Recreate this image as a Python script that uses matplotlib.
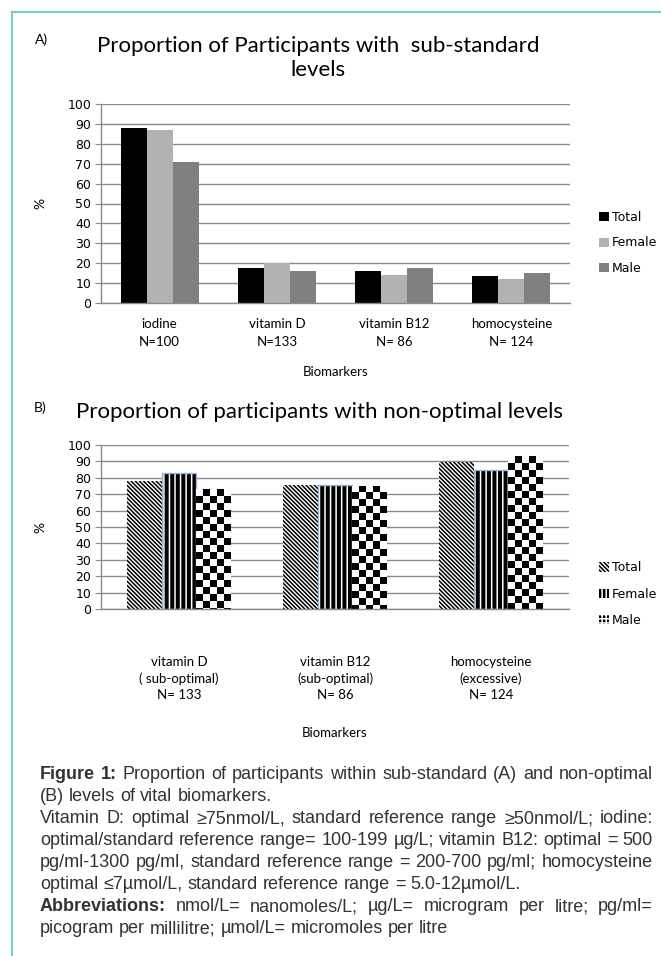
import numpy as np
import matplotlib
matplotlib.use("Agg")
import matplotlib.pyplot as plt
from matplotlib.patches import Patch
from matplotlib.lines import Line2D

# ===== DATA =====
groups = ["Total", "Female", "Male"]

cats_a = ["iodine\nN=100", "vitamin D\nN=133", "vitamin B12\nN= 86", "homocysteine\nN= 124"]
total_a = [88, 17.5, 16, 13.5]
female_a = [87, 20, 14, 12]
male_a = [71, 16, 17.5, 15]

cats_b = ["vitamin D\n( sub-optimal)\nN= 133", "vitamin B12\n(sub-optimal)\nN= 86",
          "homocysteine\n(excessive)\nN= 124"]
total_b = [78, 75.5, 89.5]
female_b = [83, 75.5, 84.5]
male_b = [73, 75, 93]

yticks = list(range(0, 101, 10))

title_a = "Proportion of Participants with  sub-standard\nlevels"
title_b = "Proportion of participants with non-optimal levels"

caption_bold = ["Figure 1:", "", "", "", "", "", "Abbreviations:", ""]
caption_text = [
    "Proportion of participants within sub-standard (A) and non-optimal",
    "(B) levels of vital biomarkers.",
    "Vitamin D: optimal \u226575nmol/L, standard reference range \u226550nmol/L; iodine:",
    "optimal/standard reference range= 100-199 \u00b5g/L; vitamin B12: optimal = 500",
    "pg/ml-1300 pg/ml, standard reference range = 200-700 pg/ml; homocysteine",
    "optimal \u22647\u00b5mol/L, standard reference range = 5.0-12\u00b5mol/L.",
    "nmol/L= nanomoles/L; \u00b5g/L= microgram per litre; pg/ml=",
    "picogram per millilitre; \u00b5mol/L= micromoles per litre",
]
caption_justify = [True, False, True, True, True, False, True, False]
# ================

W, H = 661, 956
TITLE_FONT = "Lato"
TICK_FONT = "DejaVu Sans"
CAP_FONT = "Liberation Sans"
GRID = "#8a8a8a"
plt.rcParams["hatch.linewidth"] = 1.1

fig = plt.figure(figsize=(W / 100, H / 100), dpi=100)


def px_rect(l, t, r, b):
    return [l / W, 1 - b / H, (r - l) / W, (b - t) / H]


def style_axis(ax, cats, label_y, pad, lsp):
    ax.set_xlim(0, len(cats))
    ax.set_ylim(0, 100)
    ax.set_yticks(yticks)
    ax.yaxis.grid(True, color=GRID, lw=1.0)
    ax.set_axisbelow(True)
    for s in ["top", "right"]:
        ax.spines[s].set_visible(False)
    for s in ["left", "bottom"]:
        ax.spines[s].set_color(GRID)
        ax.spines[s].set_linewidth(1.0)
    ax.tick_params(axis="y", length=4, color=GRID, labelsize=9, pad=3)
    for t in ax.get_yticklabels():
        t.set_fontfamily(TICK_FONT)
    ax.set_xticks(np.arange(len(cats)) + 0.5)
    ax.set_xticklabels(cats, fontfamily=TITLE_FONT, fontsize=9.5, linespacing=lsp)
    ax.tick_params(axis="x", length=0, pad=pad)
    ax.set_ylabel("%", fontfamily=TITLE_FONT, fontsize=10)
    ax.yaxis.set_label_coords(-0.117, 0.5)
    ax.set_xlabel("Biomarkers", fontfamily=TITLE_FONT, fontsize=9.5)
    ax.xaxis.set_label_coords(0.5, label_y)
    ax.xaxis.label.set_va("center")


w = 1 / 4.5
offsets = [-w, 0, w]

# ---- Chart A ----
axA = fig.add_axes(px_rect(101, 104, 570, 303))
xa = np.arange(len(cats_a)) + 0.5
colors_a = ["#000000", "#b2b2b2", "#808080"]
for vals, off, c, g in zip([total_a, female_a, male_a], offsets, colors_a, groups):
    axA.bar(xa + off, vals, w, color=c, lw=0, label=g)
style_axis(axA, cats_a, -(372 - 303) / 199, 11, 1.55)
axA.legend(loc="center left", bbox_to_anchor=(588 / W, 1 - 243 / H),
           bbox_transform=fig.transFigure, frameon=False,
           prop={"family": TICK_FONT, "size": 9}, handlelength=0.75,
           handleheight=0.75, handletextpad=0.25, labelspacing=1.0)

fig.text(42 / W, 1 - 40 / H, "A)", fontfamily=TITLE_FONT, fontsize=10, ha="center", va="center")
fig.text(318 / W, 1 - 58 / H, title_a, fontfamily=TITLE_FONT, fontsize=16,
         ha="center", va="center", linespacing=1.3)

# ---- Chart B ----
axB = fig.add_axes(px_rect(101, 445, 569, 609))
xb = np.arange(len(cats_b)) + 0.5
axB.bar(xb + offsets[0], total_b, w, facecolor="white", edgecolor="black",
        lw=0, hatch="\\" * 8)
axB.bar(xb + offsets[1], female_b, w, facecolor="black", edgecolor="white",
        lw=0, hatch="|||")
axB.bar(xb + offsets[1], female_b, w, fill=False, edgecolor="#95b3d7", lw=1.0)
bars_m = axB.bar(xb + offsets[2], male_b, w, facecolor="white", lw=0)
style_axis(axB, cats_b, -(733 - 609) / 164, 34, 1.4)

# checkerboard fill for the male bars, 7 px cells
py = axB.transData.transform((0, 1))[1] - axB.transData.transform((0, 0))[1]
cell_y = 7 / py
for b in bars_m:
    x0, bw, bh = b.get_x(), b.get_width(), b.get_height()
    nrows = int(np.ceil(bh / cell_y))
    board = (np.add.outer(np.arange(nrows), np.arange(5)) % 2).astype(float)
    im = axB.imshow(board[::-1], cmap="gray_r", origin="lower", interpolation="nearest",
                    extent=(x0, x0 + bw, bh - nrows * cell_y, bh), aspect="auto", zorder=2)
    im.set_clip_path(b)
axB.set_xlim(0, len(cats_b))
axB.set_ylim(0, 100)

handles_b = [
    Patch(facecolor="white", edgecolor="black", lw=0, hatch="\\" * 8),
    Patch(facecolor="black", edgecolor="white", lw=0, hatch="||||"),
    Patch(facecolor="black", edgecolor="white", lw=0, hatch="++++"),
]
axB.legend(handles_b, groups, loc="center left", bbox_to_anchor=(588 / W, 1 - 594 / H),
           bbox_transform=fig.transFigure, frameon=False,
           prop={"family": TICK_FONT, "size": 9}, handlelength=0.75,
           handleheight=0.75, handletextpad=0.25, labelspacing=1.05)

fig.text(40 / W, 1 - 408 / H, "B)", fontfamily=TITLE_FONT, fontsize=10, ha="center", va="center")
fig.text(320 / W, 1 - 412 / H, title_b, fontfamily=TITLE_FONT, fontsize=16,
         ha="center", va="center")

# ---- frame ----
teal = "#6fd1c1"
fig.add_artist(Line2D([12 / W, 12 / W], [0, 1 - 12 / H], color=teal, lw=1.5,
                      transform=fig.transFigure))
fig.add_artist(Line2D([12 / W, 1], [1 - 12 / H, 1 - 12 / H], color=teal, lw=1.5,
                      transform=fig.transFigure))

# ---- caption, justified ----
renderer = fig.canvas.get_renderer()
cap_left, cap_right = 40, 653
cap_color = "#333333"


def word_width(s, bold, size):
    t = fig.text(0, 0, s, fontfamily=CAP_FONT, fontsize=size,
                 fontweight="bold" if bold else "normal")
    wd = t.get_window_extent(renderer).width
    t.remove()
    return wd


def line_words(i):
    return ([(s, True) for s in caption_bold[i].split()] +
            [(s, False) for s in caption_text[i].split()])


# largest size at which every justified line still fits with plain spaces
cap_size = 13.0
while cap_size > 9:
    sp = word_width("x x", False, cap_size) - word_width("xx", False, cap_size)
    widest = 0
    for i, just in enumerate(caption_justify):
        if just:
            ws = line_words(i)
            widest = max(widest, sum(word_width(s, b, cap_size) for s, b in ws)
                         + sp * (len(ws) - 1))
    if widest <= cap_right - cap_left:
        break
    cap_size -= 0.25

space = word_width("x x", False, cap_size) - word_width("xx", False, cap_size)
for i, just in enumerate(caption_justify):
    words = line_words(i)
    widths = [word_width(s, b, cap_size) for s, b in words]
    gap = space
    if just and len(words) > 1:
        gap = (cap_right - cap_left - sum(widths)) / (len(words) - 1)
    x = cap_left
    y = 779 + 22 * i
    for (s, b), wd in zip(words, widths):
        fig.text(x / W, 1 - y / H, s, fontfamily=CAP_FONT, fontsize=cap_size,
                 fontweight="bold" if b else "normal", color=cap_color, va="baseline")
        x += wd + gap

fig.savefig("out.png", dpi=100)
